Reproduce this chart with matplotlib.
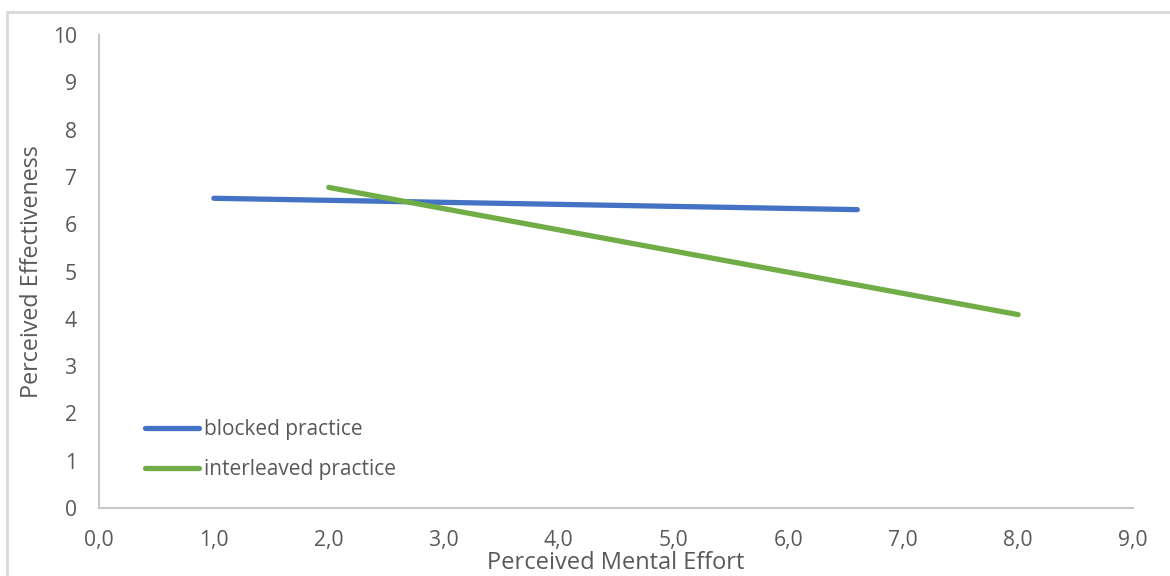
import matplotlib.pyplot as plt
import matplotlib.patches as patches

plt.rcParams['font.family'] = ['Open Sans', 'DejaVu Sans']

# Datos
blocked_x = [1.0, 6.6]
blocked_y = [6.55, 6.31]
interleaved_x = [2.0, 8.0]
interleaved_y = [6.78, 4.09]
x_ticks = [0, 1, 2, 3, 4, 5, 6, 7, 8, 9]
y_ticks = [0, 1, 2, 3, 4, 5, 6, 7, 8, 9, 10]

gray = '#595959'

fig = plt.figure(figsize=(11.7, 5.76), dpi=100)
ax = fig.add_axes([0.0846, 0.118, 0.8838, 0.821])

# Borde exterior del gráfico
fig.patches.append(patches.Rectangle((7 / 1170, -0.01), 1.02, 0.995 - 9 / 576 + 0.01,
                                     transform=fig.transFigure, fill=False,
                                     edgecolor='#D9D9D9', linewidth=2))

ax.plot(blocked_x, blocked_y, color='#4472C4', linewidth=3.8,
        solid_capstyle='round', label='blocked practice')
ax.plot(interleaved_x, interleaved_y, color='#70AD47', linewidth=3.8,
        solid_capstyle='round', label='interleaved practice')

ax.set_xlim(0, 9)
ax.set_ylim(0, 10)
ax.set_xticks(x_ticks)
ax.set_xticklabels([f"{t:.1f}".replace('.', ',') for t in x_ticks])
ax.set_yticks(y_ticks)
ax.tick_params(length=0, labelsize=15.2, colors=gray)
ax.tick_params(axis='x', pad=16)
ax.tick_params(axis='y', pad=16)

for side in ['top', 'right']:
    ax.spines[side].set_visible(False)
for side in ['left', 'bottom']:
    ax.spines[side].set_color('#C8C8C8')
    ax.spines[side].set_linewidth(1.5)

ax.set_xlabel("Perceived Mental Effort", fontsize=17, color=gray)
ax.set_ylabel("Perceived Effectiveness", fontsize=16.8, color=gray)
ax.xaxis.set_label_coords(0.5, -0.116, transform=ax.transAxes)
ax.xaxis.label.set_va('center')
ax.yaxis.set_label_coords(-0.065, 0.5, transform=ax.transAxes)
ax.yaxis.label.set_va('center')

leg = ax.legend(loc='upper left', bbox_to_anchor=(0.0365, 0.205), frameon=False,
                borderaxespad=0, fontsize=15, handlelength=2.6, handletextpad=0.25,
                labelspacing=0.9, labelcolor=gray)

fig.savefig('out.png', dpi=100)
